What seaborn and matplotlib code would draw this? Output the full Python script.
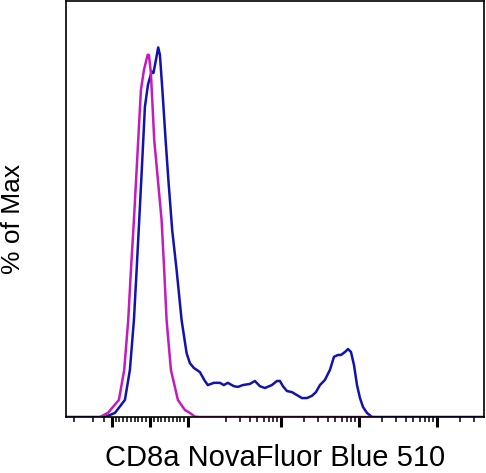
import numpy as np
import pandas as pd
import matplotlib
matplotlib.use("Agg")
import matplotlib.pyplot as plt
import seaborn as sns

# ---- data (fluorescence intensity, % of max) ----
iso_x = [-1309, -1100, -812, -673, -568, -497, -419, -306, -236, -157, -60, -26,
         26, 113, 306, 374, 437, 550, 733, 916, 1047, 1178, 1309, 151400]
iso_y = [0, 1.1, 4.6, 12.7, 26.1, 39.6, 53.0, 74.6, 88.0, 93.4, 97.5, 97.5,
         92.6, 74.6, 53.0, 39.6, 26.1, 12.7, 4.6, 1.9, 1.1, 0.1, 0, 0]

cd8_x = [-2500, -1178, -916, -655, -524, -419, -348, -280, -217, -131, -52, 45,
         92, 157, 217, 262, 327, 411, 484, 584, 699, 830, 961, 1047, 1152, 1309,
         1440, 1518, 1675, 1833, 1937, 2095, 2503, 2818, 3264, 4014, 4652, 5394,
         6252, 7685, 8908, 9734, 10634, 11966, 13868, 16074, 18632, 21600, 25030,
         28160, 31700, 36740, 42580, 47920, 53940, 58920, 66300, 72460, 79140,
         86480, 94500, 103200, 112800, 126900, 147100, 4010000]
cd8_y = [0, 0, 1.1, 4.6, 12.7, 26.1, 39.6, 53.0, 65.7, 83.5, 89.4, 93.0,
         92.6, 96.1, 99.5, 97.5, 88.0, 74.6, 63.8, 50.3, 39.6, 26.1, 17.2, 14.5, 13.2, 12.1,
         9.7, 8.6, 9.2, 9.2, 8.6, 9.2, 8.3, 8.1, 8.6, 8.9, 9.7, 8.3,
         7.8, 8.6, 9.7, 9.7, 8.3, 7.0, 6.7, 5.9, 5.1, 5.1, 5.7,
         6.7, 8.6, 10.0, 12.7, 16.2, 16.7, 16.7, 17.5, 18.3, 17.5,
         14.0, 8.6, 5.1, 2.7, 1.1, 0, 0]

x_label = "CD8a NovaFluor Blue 510"
y_label = "% of Max"

df = pd.concat([
    pd.DataFrame({"x": cd8_x, "y": cd8_y, "sample": "CD8a"}),
    pd.DataFrame({"x": iso_x, "y": iso_y, "sample": "Isotype"}),
], ignore_index=True)

sns.set_style("white")
plt.rcParams['font.family'] = ['Liberation Sans', 'DejaVu Sans']

fig = plt.figure(figsize=(4.86, 4.73), dpi=100)
ax = fig.add_axes([66/486, (473-417)/473, 418/486, 416/473])

sns.lineplot(data=df, x="x", y="y", hue="sample", units="sample",
             estimator=None, sort=False, ax=ax, legend=False,
             palette={"CD8a": "#1212AE", "Isotype": "#C21CBE"},
             linewidth=1.8)

ax.set_xscale("symlog", linthresh=2000, linscale=0.88)
ax.set_xlim(-2500, 4.0e6)
ax.set_ylim(0, 112)

major = [-1000, 0, 1000, 1e4, 1e5, 1e6]
minor = ([-2000, -1500, -1200] + [-900 + 100*i for i in range(9)]
         + [100*i for i in range(1, 10)]
         + [1000*i for i in range(2, 10)] + [1e4*i for i in range(2, 10)]
         + [1e5*i for i in range(2, 10)] + [2e6, 3e6])
minor = [m for m in minor if m not in major]
ax.set_xticks(major)
ax.set_xticks(minor, minor=True)
ax.set_xticklabels([])
ax.set_yticks([])
ax.tick_params(axis="x", which="major", direction="out", length=7.5, width=2.2,
               color="black", bottom=True)
ax.tick_params(axis="x", which="minor", direction="out", length=3.8, width=1.1,
               color="black", bottom=True)
for s in ax.spines.values():
    s.set_color("black")
    s.set_linewidth(1.2)

ax.set_xlabel(x_label, fontsize=21, color="black", va="center")
ax.set_ylabel(y_label, fontsize=19, color="black", va="center")
ax.xaxis.set_label_coords(0.5, -(458 - 417) / 416)
ax.yaxis.set_label_coords((13 - 66) / 418, (417 - 219) / 416)

fig.savefig("out.png", dpi=100)
